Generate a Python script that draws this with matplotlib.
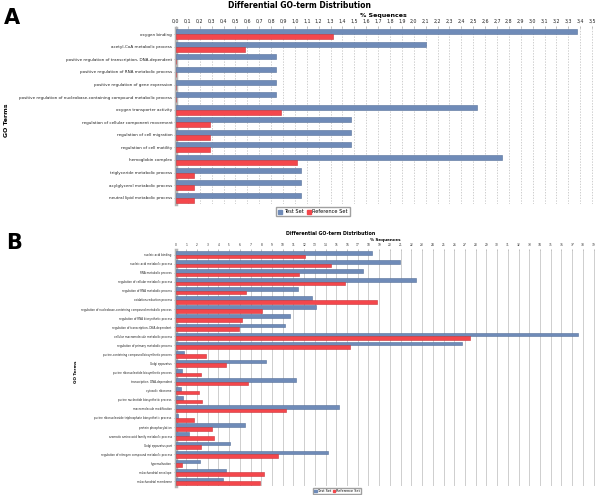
import matplotlib
matplotlib.use("Agg")
import matplotlib.pyplot as plt
import numpy as np
from matplotlib.patches import Patch

# panel A data (% sequences)
terms_a = [
    "oxygen binding",
    "acetyl-CoA metabolic process",
    "positive regulation of transcription, DNA-dependent",
    "positive regulation of RNA metabolic process",
    "positive regulation of gene expression",
    "positive regulation of nucleobase-containing compound metabolic process",
    "oxygen transporter activity",
    "regulation of cellular component movement",
    "regulation of cell migration",
    "regulation of cell motility",
    "hemoglobin complex",
    "triglyceride metabolic process",
    "acylglycerol metabolic process",
    "neutral lipid metabolic process",
]
test_a = [3.37, 2.10, 0.84, 0.84, 0.84, 0.84, 2.53, 1.47, 1.47, 1.47, 2.74, 1.05, 1.05, 1.05]
ref_a = [1.32, 0.58, 0.0, 0.0, 0.0, 0.0, 0.88, 0.29, 0.29, 0.29, 1.02, 0.15, 0.15, 0.15]

# panel B data (% sequences)
terms_b = [
    "nucleic acid binding",
    "nucleic acid metabolic process",
    "RNA metabolic process",
    "regulation of cellular metabolic process",
    "regulation of RNA metabolic process",
    "oxidation-reduction process",
    "regulation of nucleobase-containing compound metabolic process",
    "regulation of RNA biosynthetic process",
    "regulation of transcription, DNA-dependent",
    "cellular macromolecule metabolic process",
    "regulation of primary metabolic process",
    "purine-containing compound biosynthetic process",
    "Golgi apparatus",
    "purine ribonucleotide biosynthetic process",
    "transcription, DNA-dependent",
    "cytosolic ribosome",
    "purine nucleotide biosynthetic process",
    "macromolecule modification",
    "purine ribonucleoside triphosphate biosynthetic process",
    "protein phosphorylation",
    "aromatic amino acid family metabolic process",
    "Golgi apparatus part",
    "regulation of nitrogen compound metabolic process",
    "hypersalivation",
    "mitochondrial envelope",
    "mitochondrial membrane",
]
test_b = [18.3, 20.9, 17.5, 22.4, 11.4, 12.7, 13.1, 10.65, 10.2, 37.5, 26.7, 0.8, 8.4,
          0.58, 11.2, 0.48, 0.67, 15.25, 0.26, 6.5, 1.3, 5.05, 14.2, 2.25, 4.75, 4.4]
ref_b = [12.1, 14.5, 11.5, 15.8, 6.6, 18.8, 8.1, 6.2, 5.9, 27.5, 16.3, 2.8, 4.7,
         2.4, 6.8, 2.2, 2.5, 10.3, 1.7, 3.4, 3.55, 2.35, 9.6, 0.6, 8.3, 7.85]

BLUE = "#6f8bb8"
RED = "#f4474c"
W, H = 600, 495


def px(l, t, r, b):
    return [l / W, 1 - b / H, (r - l) / W, (b - t) / H]


def draw_panel(ax, terms, test, ref, xmax, ticks, ticklabels, lab_fs, tick_fs, grid_ls):
    y = np.arange(len(terms))
    h = 0.4
    ax.barh(y - h / 2, test, height=h, color=BLUE, edgecolor="#56709a", linewidth=0.4, zorder=3)
    ax.barh(y + h / 2, ref, height=h, color=RED, edgecolor="#c93338", linewidth=0.4, zorder=3)
    ax.set_ylim(len(terms) - 0.5, -0.5)
    ax.set_xlim(0, xmax)
    ax.set_yticks(y)
    ax.set_yticklabels(terms, fontsize=lab_fs, color="#222222")
    ax.xaxis.tick_top()
    ax.set_xticks(ticks)
    ax.set_xticklabels(ticklabels, fontsize=tick_fs, color="#222222")
    ax.tick_params(axis="both", length=1.5, width=0.4, pad=1.2, color="#888888")
    ax.grid(axis="x", color="#bbbbbb", linestyle=grid_ls, linewidth=0.5, zorder=0)
    for s in ["right", "bottom", "top"]:
        ax.spines[s].set_visible(False)
    ax.spines["left"].set_color("#b5b5b5")
    ax.spines["left"].set_linewidth(2.5)


fig = plt.figure(figsize=(6, 4.95), dpi=100)

# ---- panel A
fig.text(300 / W, 1 - 6 / H, "Differential GO-term Distribution", ha="center", va="center",
         fontsize=5.5, fontweight="bold")
fig.text(4 / W, 1 - 18 / H, "A", ha="left", va="center", fontsize=15, fontweight="bold")
axA = fig.add_axes(px(176, 28, 596, 204))
ticks_a = np.round(np.arange(0, 3.51, 0.1), 1)
labels_a = [f"{t:.1f}".replace(".", ",") for t in ticks_a]
draw_panel(axA, terms_a, test_a, ref_a, 420 / 118.9, ticks_a, labels_a, 3.0, 3.4, (0, (2, 2)))
fig.text(383 / W, 1 - 15 / H, "% Sequences", ha="center", va="center", fontsize=4.5, fontweight="bold")
fig.text(7 / W, 1 - 120 / H, "GO Terms", ha="center", va="center", rotation=90,
         fontsize=4.5, fontweight="bold")
axA.legend(handles=[Patch(color=BLUE, label="Test Set"), Patch(color=RED, label="Reference Set")],
           loc="center", bbox_to_anchor=((313 - 176) / 420, -0.045), ncol=2, fontsize=3.6,
           frameon=True, fancybox=False, edgecolor="#888888", handlelength=0.8, handleheight=0.8,
           handletextpad=0.3, columnspacing=0.6, borderpad=0.4)

# ---- panel B
fig.text(331 / W, 1 - 234 / H, "Differential GO-term Distribution", ha="center", va="center",
         fontsize=3.4, fontweight="bold")
fig.text(6 / W, 1 - 243 / H, "B", ha="left", va="center", fontsize=15, fontweight="bold")
axB = fig.add_axes(px(175.5, 250, 598, 486))
ticks_b = np.arange(0, 40)
draw_panel(axB, terms_b, test_b, ref_b, (598 - 175.5) / 10.72, ticks_b, [str(t) for t in ticks_b],
           2.0, 2.1, "-")
axB.tick_params(axis="x", pad=0.8, length=1)
fig.text(385 / W, 1 - 240 / H, "% Sequences", ha="center", va="center", fontsize=3.0, fontweight="bold")
fig.text(76 / W, 1 - 372 / H, "GO Terms", ha="center", va="center", rotation=90,
         fontsize=3.0, fontweight="bold")
axB.legend(handles=[Patch(color=BLUE, label="Test Set"), Patch(color=RED, label="Reference Set")],
           loc="center", bbox_to_anchor=((337 - 175.5) / 422.5, -0.022), ncol=2, fontsize=2.4,
           frameon=True, fancybox=False, edgecolor="#888888", handlelength=0.7, handleheight=0.7,
           handletextpad=0.3, columnspacing=0.5, borderpad=0.3)

fig.savefig("out.png", dpi=100)
